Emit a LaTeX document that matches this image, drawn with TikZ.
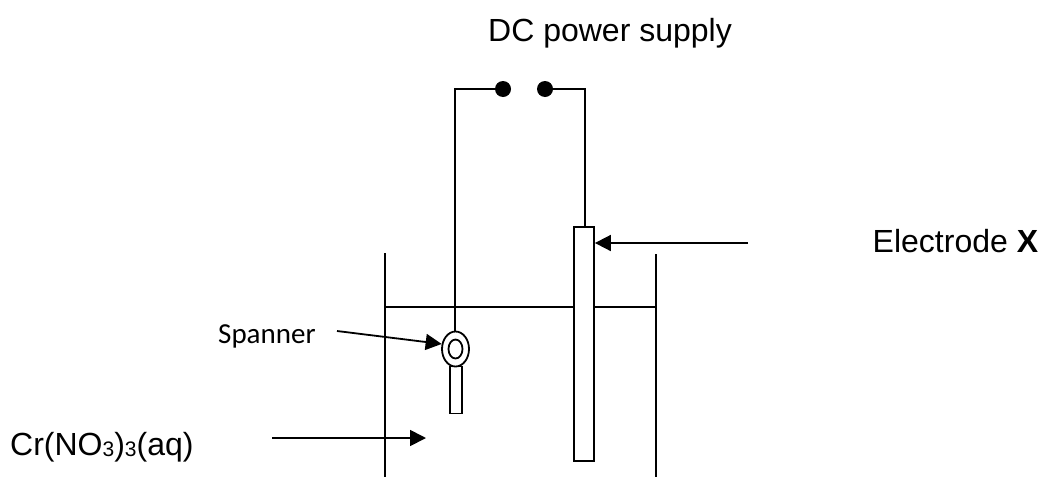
\documentclass[tikz,border=0pt]{standalone}
\usepackage{fontspec}
\setmainfont{Liberation Sans}
\newfontfamily\spanfont{Carlito}
\usetikzlibrary{arrows.meta,shapes.geometric}
\tikzset{
  line/.style={draw=black,line width=1.8pt},
  ptr/.style={line,-{Triangle[length=16pt,width=16pt]}},
  dot/.style={circle,fill=black,draw=none,minimum size=16pt,inner sep=0pt},
  lab/.style={font=\fontsize{32}{38}\selectfont,inner sep=0pt,anchor=base west},
  lbx/.style={line,fill=white,inner sep=0pt}
}
\begin{document}
\begin{tikzpicture}[x=1pt,y=-1pt]
\useasboundingbox (0,0) rectangle (1041,477);
\fill[white] (0,0) rectangle (1041,477);
\coordinate (tankLtop) at (385,253);
\coordinate (tankLbot) at (385,477);
\coordinate (tankRtop) at (656,254);
\coordinate (tankRbot) at (656,477);
\coordinate (wl) at (385,307);
\coordinate (wr) at (656,307);
\draw[line] (tankLtop) -- (tankLbot);
\draw[line] (tankRtop) -- (tankRbot);
\draw[line] (wl) -- (wr);
\node[dot] (dl) at (503,89) {};
\node[dot] (dr) at (545,89) {};
\node[lbx,minimum width=12pt,minimum height=47pt] (handle) at (456,390) {};
\node[lbx,ellipse,minimum width=27pt,minimum height=35pt] (eye) at (455.5,349) {};
\node[lbx,ellipse,minimum width=14pt,minimum height=19pt] (eyein) at (455.5,349) {};
\node[lbx,minimum width=20pt,minimum height=234pt] (elec) at (584,344) {};
\coordinate (cl) at (455,89);
\coordinate (cr) at (585,89);
\draw[line,line join=miter] (dl) -- (cl) -- (eye.north -| cl);
\draw[line,line join=miter] (dr) -- (cr) -- (elec.north -| cr);
\node[lab] (dc) at (488,41) {DC power supply};
\node[lab] (ex) at (872.5,252) {Electrode \textbf{X}};
\node[lab] (cr3) at (10,455) {Cr(NO{\fontsize{21}{25}\selectfont\raisebox{-1pt}{3}})\raisebox{-1pt}{\fontsize{21}{25}\selectfont 3}(aq)};
\node[font=\spanfont\fontsize{29}{34}\selectfont,inner sep=0pt,anchor=base west] (sp) at (218,343) {Spanner};
\coordinate (a1) at (337,331);
\coordinate (a2) at (272,438);
\coordinate (a2e) at (426,438);
\coordinate (a3) at (748,243);
\draw[ptr] (a1) -- (eye.160);
\draw[ptr] (a2) -- (a2e);
\draw[ptr] (a3) -- (elec.east |- a3);
\end{tikzpicture}
\end{document}
